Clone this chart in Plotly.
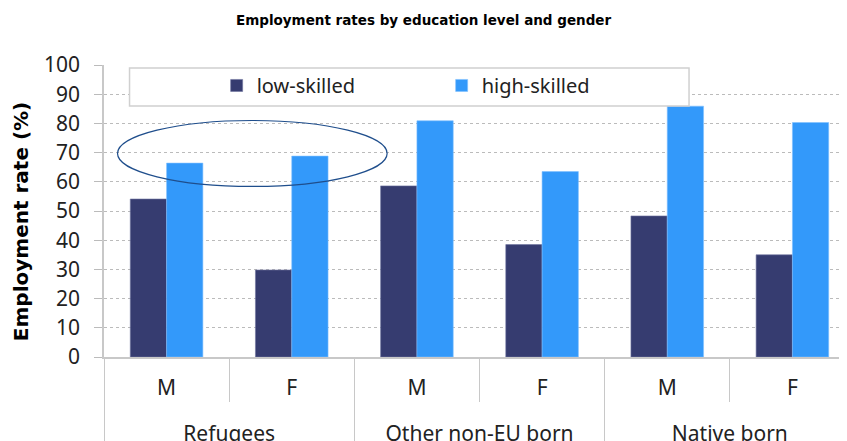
import plotly.graph_objects as go

groups = ["Refugees", "Refugees", "Other non-EU born", "Other non-EU born", "Native born", "Native born"]
genders = ["M", "F", "M", "F", "M", "F"]
low_skilled = [54.1, 29.8, 58.6, 38.5, 48.3, 35.0]
high_skilled = [66.4, 68.8, 80.9, 63.5, 85.9, 80.3]

dark = "#363C70"
light = "#3399FA"
tick_font = dict(family="Noto Sans", size=21, color="#222222")

# leading line break pushes the outer labels further below M / F
outer = ["<br>" + g for g in groups]

fig = go.Figure()
fig.add_trace(go.Bar(x=[outer, genders], y=low_skilled, name="low-skilled",
                     marker=dict(color=dark, line=dict(color="#6E73A0", width=0.6))))
fig.add_trace(go.Bar(x=[outer, genders], y=high_skilled, name="high-skilled",
                     marker=dict(color=light, line=dict(color="#7FBFFF", width=0.6))))

# legend frame and the ellipse around the refugee high-skilled bars
fig.add_shape(type="rect", xref="paper", yref="paper", x0=0.034, x1=0.779, y0=0.86, y1=0.99,
              line=dict(color="#D0D0D0", width=1.5), fillcolor="white", layer="above")
fig.add_shape(type="circle", xref="paper", yref="y", x0=0.018, x1=0.377, y0=58.4, y1=81,
              line=dict(color="#1F4E8C", width=1.2), layer="above")

fig.update_layout(
    width=847, height=441,
    margin=dict(l=96, r=0, t=57, b=92, autoexpand=False),
    paper_bgcolor="white", plot_bgcolor="white",
    title=dict(text="<b>Employment rates by education level and gender</b>",
               font=dict(family="DejaVu Sans", size=13.5, color="black"),
               x=0.4906, xanchor="center", y=0.973, yref="container", yanchor="middle"),
    barmode="group", bargap=0.42, bargroupgap=0,
    showlegend=True,
    legend=dict(orientation="h", x=0.15, y=0.93, xanchor="left", yanchor="middle",
                bgcolor="rgba(0,0,0,0)", font=dict(family="Noto Sans", size=20, color="#222222"),
                entrywidth=180, itemwidth=30),
    yaxis=dict(range=[0, 100], dtick=10, showgrid=True, gridcolor="#BBBBBB", griddash="dot",
               gridwidth=1, showline=True, linecolor="#C8C8C8", linewidth=1.5,
               ticks="outside", ticklen=8, tickcolor="#BBBBBB", tickfont=tick_font,
               ticklabelstandoff=10, automargin=False,
               title=dict(text="<b>Employment rate (%)&nbsp;&nbsp;&nbsp;</b>",
                          font=dict(family="DejaVu Sans", size=20, color="black"), standoff=10),
               zeroline=False),
    xaxis=dict(type="multicategory", range=[-0.5, 5.5], showline=True, linecolor="#C8C8C8",
               linewidth=1.5, showdividers=True, dividercolor="#C8C8C8", dividerwidth=1,
               tickfont=tick_font, ticks="outside", ticklen=43, tickcolor="#C8C8C8",
               ticklabelstandoff=11, automargin=False),
)

fig.write_html("out.html")
